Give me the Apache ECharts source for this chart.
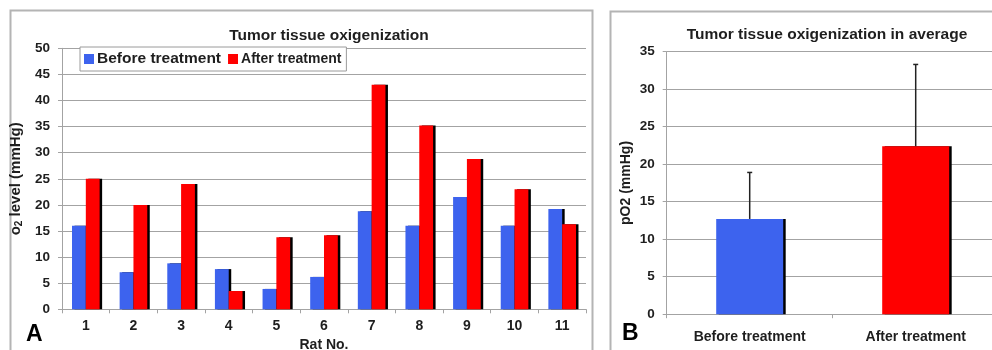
<!DOCTYPE html>
<html>
<head>
<meta charset="utf-8">
<script src="https://cdn.jsdelivr.net/npm/echarts@6/dist/echarts.min.js"></script>
<style>
  html, body { margin: 0; padding: 0; background: #ffffff; }
  #chart { width: 992px; height: 350px; }
</style>
</head>
<body>
<div id="chart"></div>
<script>
// Panel A: oxygen level per rat, before and after treatment (mmHg)
const ratLabels = ['1', '2', '3', '4', '5', '6', '7', '8', '9', '10', '11'];
const beforeLevels = [16.0, 7.1, 8.8, 7.7, 3.9, 6.2, 18.8, 16.0, 21.5, 16.0, 19.2];
const afterLevels = [25.0, 20.0, 24.0, 3.5, 13.8, 14.2, 43.0, 35.2, 28.8, 23.0, 16.3];
const levelAxis = { min: 0, max: 50, step: 5 };

// Panel B: group averages with standard deviation (mmHg)
const groupLabels = ['Before treatment', 'After treatment'];
const meanLevels = [12.7, 22.4];
const sdLevels = [6.2, 10.9];
const averageAxis = { min: 0, max: 35, step: 5 };

const FONT = '"Liberation Sans", Arial, Helvetica, sans-serif';
const INK = '#1e1e1e';
const GRID_LINE = '#a3a3a3';
const BLUE = '#3d63ee';
const RED = '#ff0000';

const chart = echarts.init(document.getElementById('chart'), null, { renderer: 'canvas' });

const barShadow = { shadowColor: '#000000', shadowOffsetX: 2.5, shadowOffsetY: 0, shadowBlur: 0 };

function valueAxis(gridIndex, range, nameText, nameGap, nameStyle) {
  return {
    type: 'value',
    gridIndex: gridIndex,
    min: range.min,
    max: range.max,
    interval: range.step,
    name: nameText,
    nameLocation: 'middle',
    nameGap: nameGap,
    nameTextStyle: Object.assign({ fontFamily: FONT, fontWeight: 'bold', fontSize: 13.5, color: INK }, nameStyle || {}),
    axisLine: { show: true, lineStyle: { color: GRID_LINE, width: 1 } },
    axisTick: { show: true, length: 4, lineStyle: { color: GRID_LINE } },
    axisLabel: { fontFamily: FONT, fontWeight: 'bold', fontSize: 13.5, color: INK, margin: 12 },
    splitLine: { show: true, lineStyle: { color: GRID_LINE, width: 1 } }
  };
}

function categoryAxis(gridIndex, labels, margin, extra) {
  return Object.assign({
    type: 'category',
    gridIndex: gridIndex,
    data: labels,
    axisLine: { show: true, lineStyle: { color: GRID_LINE, width: 1 } },
    axisTick: { show: true, length: 4, lineStyle: { color: GRID_LINE } },
    axisLabel: { fontFamily: FONT, fontWeight: 'bold', fontSize: 14, color: INK, margin: margin, interval: 0 },
    splitLine: { show: false }
  }, extra || {});
}

const option = {
  animation: false,
  backgroundColor: '#ffffff',
  title: [
    {
      text: 'Tumor tissue oxigenization',
      left: 324, top: 23, textAlign: 'center',
      textStyle: { fontFamily: FONT, fontWeight: 'bold', fontSize: 15.5, color: INK }
    },
    {
      text: 'Tumor tissue oxigenization in average',
      left: 822, top: 22, textAlign: 'center',
      textStyle: { fontFamily: FONT, fontWeight: 'bold', fontSize: 15.5, color: INK }
    }
  ],
  legend: {
    left: 80, top: 47,
    orient: 'horizontal',
    icon: 'rect',
    itemWidth: 10, itemHeight: 10,
    itemGap: 7,
    padding: [4, 5, 4, 4],
    borderColor: '#9a9a9a', borderWidth: 1,
    backgroundColor: '#ffffff',
    itemStyle: { shadowColor: 'rgba(0,0,0,0)', shadowOffsetX: 0 },
    textStyle: { fontFamily: FONT, fontWeight: 'bold', color: INK, padding: [0, 0, 0, -2] },
    data: [
      { name: 'Before treatment', textStyle: { fontSize: 15.5 } },
      { name: 'After treatment', textStyle: { fontSize: 14 } }
    ]
  },
  grid: [
    { left: 62, top: 48.3, width: 524, height: 261, outerBoundsMode: 'none', containLabel: false },
    { left: 666.7, top: 51.7, width: 332, height: 262.5, outerBoundsMode: 'none', containLabel: false }
  ],
  xAxis: [
    categoryAxis(0, ratLabels, 10, {
      name: 'Rat No.', nameLocation: 'middle', nameGap: 27,
      nameTextStyle: { fontFamily: FONT, fontWeight: 'bold', fontSize: 14, color: INK }
    }),
    categoryAxis(1, groupLabels, 16)
  ],
  yAxis: [
    valueAxis(0, levelAxis, '{t|o}{s|2}{t| level (mmHg)}', 27, {
      rich: {
        t: { fontFamily: FONT, fontWeight: 'bold', fontSize: 15, color: INK, lineHeight: 17 },
        s: { fontFamily: FONT, fontWeight: 'bold', fontSize: 10, color: INK, lineHeight: 17, verticalAlign: 'bottom' }
      }
    }),
    valueAxis(1, averageAxis, 'pO2 (mmHg)', 34, { fontSize: 14 })
  ],
  series: [
    {
      name: 'Before treatment',
      type: 'bar',
      xAxisIndex: 0, yAxisIndex: 0,
      data: beforeLevels,
      barGap: '0%',
      barCategoryGap: '42%',
      itemStyle: Object.assign({ color: BLUE }, barShadow)
    },
    {
      name: 'After treatment',
      type: 'bar',
      xAxisIndex: 0, yAxisIndex: 0,
      data: afterLevels,
      barGap: '0%',
      barCategoryGap: '42%',
      itemStyle: Object.assign({ color: RED }, barShadow)
    },
    {
      name: 'Average',
      type: 'bar',
      xAxisIndex: 1, yAxisIndex: 1,
      barWidth: 67,
      data: meanLevels.map(function (v, i) {
        return { value: v, itemStyle: { color: i === 0 ? BLUE : RED } };
      }),
      itemStyle: Object.assign({}, barShadow)
    },
    {
      name: 'Standard deviation',
      type: 'custom',
      xAxisIndex: 1, yAxisIndex: 1,
      z: 5,
      data: meanLevels.map(function (m, i) { return [i, m, sdLevels[i]]; }),
      renderItem: function (params, api) {
        const idx = api.value(0);
        const mean = api.value(1);
        const sd = api.value(2);
        const base = api.coord([idx, mean]);
        const top = api.coord([idx, mean + sd]);
        const stroke = { stroke: '#222222', lineWidth: 1.5 };
        return {
          type: 'group',
          children: [
            { type: 'line', shape: { x1: base[0], y1: base[1], x2: top[0], y2: top[1] }, style: stroke },
            { type: 'line', shape: { x1: top[0] - 2.5, y1: top[1], x2: top[0] + 2.5, y2: top[1] }, style: stroke }
          ]
        };
      }
    }
  ],
  graphic: [
    {
      type: 'rect', silent: true, z: -1,
      shape: { x: 10.5, y: 10.5, width: 582, height: 360 },
      style: { fill: 'none', stroke: '#b4b4b4', lineWidth: 2 }
    },
    {
      type: 'rect', silent: true, z: -1,
      shape: { x: 610.5, y: 11.5, width: 400, height: 360 },
      style: { fill: 'none', stroke: '#b4b4b4', lineWidth: 2 }
    },
    {
      type: 'text', left: 26, top: 323,
      style: { text: 'A', font: 'bold 23px ' + FONT, fill: '#000000' }
    },
    {
      type: 'text', left: 622, top: 322,
      style: { text: 'B', font: 'bold 23px ' + FONT, fill: '#000000' }
    }
  ]
};

chart.setOption(option);
</script>
</body>
</html>
